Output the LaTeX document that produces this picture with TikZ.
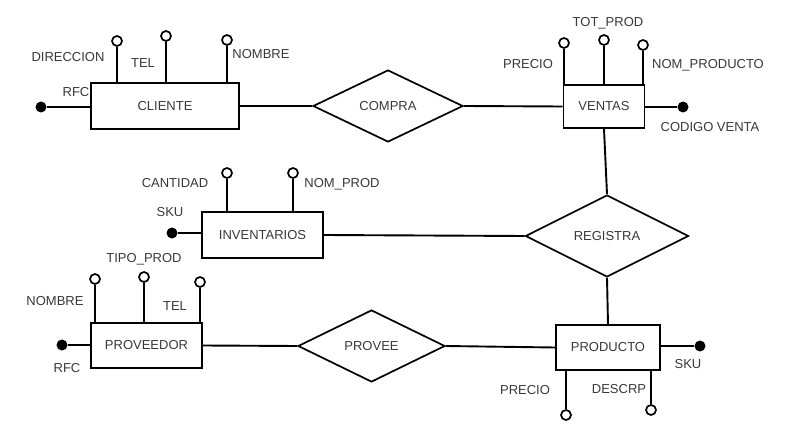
\documentclass[tikz,border=0pt]{standalone}
\usepackage{fontspec}
\setmainfont{Liberation Sans}
\usetikzlibrary{shapes.geometric}
\definecolor{txt}{HTML}{383838}
\tikzset{
  every picture/.style={x=1pt,y=-1pt},
  ent/.style={draw,line width=1.9pt,rectangle,inner sep=0pt,font=\fontsize{13}{15}\selectfont,text=txt},
  rel/.style={draw,line width=1.7pt,diamond,aspect=2.08,inner sep=0pt,font=\fontsize{13}{15}\selectfont,text=txt},
  attr/.style={draw,line width=1.7pt,circle,fill=white,minimum size=10pt,inner sep=0pt},
  keyd/.style={circle,fill=black,minimum size=11pt,inner sep=0pt},
  lbl/.style={font=\fontsize{13}{15}\selectfont,text=txt,inner sep=0pt},
  conn/.style={line width=1.9pt}
}
\begin{document}
\begin{tikzpicture}
\useasboundingbox (0,0) rectangle (787,433);
% entities
\node[ent,minimum width=148pt,minimum height=46pt] (cli) at (165,106) {CLIENTE};
\node[ent,minimum width=81pt,minimum height=43pt] (ven) at (604,106.5) {VENTAS};
\node[ent,minimum width=121pt,minimum height=46pt] (inv) at (262.5,235) {INVENTARIOS};
\node[ent,minimum width=111pt,minimum height=45pt] (pro) at (146.5,345.5) {PROVEEDOR};
\node[ent,minimum width=104pt,minimum height=45pt] (prd) at (608,347.5) {PRODUCTO};
% relationships
\node[rel,minimum width=150pt,minimum height=72pt] (com) at (388,106) {COMPRA};
\node[rel,minimum width=163pt,minimum height=82pt] (reg) at (607,236) {REGISTRA};
\node[rel,minimum width=147pt,minimum height=72pt] (prv) at (371.5,346) {PROVEE};
% relationship connectors
\draw[conn] (cli.east) -- (com.west);
\draw[conn] (com.east) -- (ven.west);
\draw[conn] (ven.south) -- (reg.north);
\draw[conn] (inv.east) -- (reg.west);
\draw[conn] (reg.south) -- (prd.north);
\draw[conn] (pro.east) -- (prv.west);
\draw[conn] (prv.east) -- (prd.west);
% CLIENTE attributes
\node[attr] (a1) at (117,41) {};
\node[attr] (a2) at (166,36) {};
\node[attr] (a3) at (227,40) {};
\node[keyd] (k1) at (41,107) {};
\draw[conn] (a1) -- (a1 |- cli.north);
\draw[conn] (a2) -- (a2 |- cli.north);
\draw[conn] (a3) -- (a3 |- cli.north);
\draw[conn] (k1) -- (k1 -| cli.west);
\node[lbl] (l1) at (68,57) {DIRECCION};
\node[lbl] (l2) at (143,63) {TEL};
\node[lbl] (l3) at (261,54) {NOMBRE};
\node[lbl] (l4) at (76,92) {RFC};
% VENTAS attributes
\node[attr] (a4) at (564,43) {};
\node[attr] (a5) at (604,40) {};
\node[attr] (a6) at (643,45) {};
\node[keyd] (k2) at (683,107) {};
\draw[conn] (a4) -- (a4 |- ven.north);
\draw[conn] (a5) -- (a5 |- ven.north);
\draw[conn] (a6) -- (a6 |- ven.north);
\draw[conn] (k2) -- (k2 -| ven.east);
\node[lbl] (l5) at (528,64) {PRECIO};
\node[lbl] (l6) at (608,23) {TOT\_PROD};
\node[lbl] (l7) at (708,65) {NOM\_PRODUCTO};
\node[lbl] (l8) at (710,127) {CODIGO VENTA};
% INVENTARIOS attributes
\node[attr] (a7) at (227,173) {};
\node[attr] (a8) at (293,173) {};
\node[keyd] (k3) at (172,233) {};
\draw[conn] (a7) -- (a7 |- inv.north);
\draw[conn] (a8) -- (a8 |- inv.north);
\draw[conn] (k3) -- (k3 -| inv.west);
\node[lbl] (l9) at (175,183) {CANTIDAD};
\node[lbl] (l10) at (342,184) {NOM\_PROD};
\node[lbl] (l11) at (170,212) {SKU};
% PROVEEDOR attributes
\node[attr] (a9) at (95,279) {};
\node[attr] (a10) at (144,277) {};
\node[attr] (a11) at (200,282) {};
\node[keyd] (k4) at (62,345) {};
\draw[conn] (a9) -- (a9 |- pro.north);
\draw[conn] (a10) -- (a10 |- pro.north);
\draw[conn] (a11) -- (a11 |- pro.north);
\draw[conn] (k4) -- (k4 -| pro.west);
\node[lbl] (l12) at (55,301) {NOMBRE};
\node[lbl] (l13) at (144,259) {TIPO\_PROD};
\node[lbl] (l14) at (175,306) {TEL};
\node[lbl] (l15) at (67,368) {RFC};
% PRODUCTO attributes
\node[attr] (a12) at (566,415) {};
\node[attr] (a13) at (651,410) {};
\node[keyd] (k5) at (700,346) {};
\draw[conn] (a12) -- (a12 |- prd.south);
\draw[conn] (a13) -- (a13 |- prd.south);
\draw[conn] (k5) -- (k5 -| prd.east);
\node[lbl] (l16) at (525,390) {PRECIO};
\node[lbl] (l17) at (619,389) {DESCRP};
\node[lbl] (l18) at (688,364) {SKU};
\end{tikzpicture}
\end{document}
